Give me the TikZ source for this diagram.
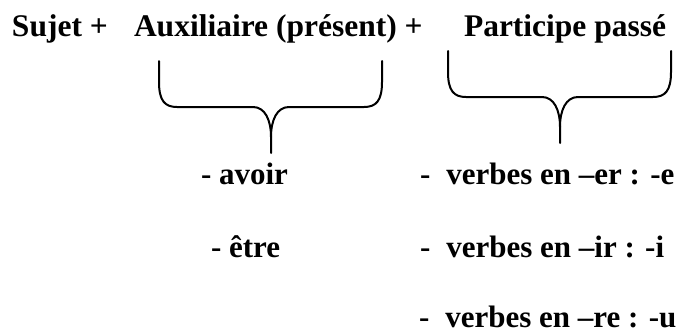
\documentclass[tikz,border=0pt]{standalone}
\usepackage{fontspec}
\setmainfont{Liberation Serif}
\begin{document}
\begin{tikzpicture}[x=1pt,y=-1pt,
  lbl/.style={inner sep=0pt,outer sep=0pt,font=\fontsize{31}{37}\selectfont\bfseries},
  toplbl/.style={inner sep=0pt,outer sep=0pt,font=\fontsize{31.5}{37}\selectfont\bfseries},
  bracepath/.style={line width=2pt,line join=round,line cap=round}]
\useasboundingbox (0,0) rectangle (679,335);
% top line
\node[toplbl,anchor=base west] (sujet) at (12,36) {Sujet +};
\node[toplbl,anchor=base west] (aux) at (134,36) {Auxiliaire (présent) +};
\node[toplbl,anchor=base west] (part) at (464,36) {Participe passé};
% second level
\node[lbl,anchor=base west] (avoir) at (201,184) {- avoir};
\node[lbl,anchor=base west] (etre) at (211,257) {- être};
\node[lbl,anchor=base west] (er) at (420,184) {-\hspace{16pt}verbes en –er : -e};
\node[lbl,anchor=base west] (ir) at (420,257) {-\hspace{16pt}verbes en –ir : -i};
\node[lbl,anchor=base west] (re) at (419,327) {-\hspace{16pt}verbes en –re : -u};
% braces
\coordinate (b1) at (271,107);
\coordinate (b2) at (560,97);
\foreach \c in {b1,b2}{
  \draw[bracepath] ([shift={(-112,-46)}]\c) -- ([shift={(-112,-25)}]\c)
     .. controls ([shift={(-112,-6)}]\c) and ([shift={(-106,0)}]\c) .. ([shift={(-94,0)}]\c)
     -- ([shift={(-18,0)}]\c)
     .. controls ([shift={(-6,0)}]\c) and ([shift={(0,13)}]\c) .. ([shift={(0,30)}]\c)
     -- ([shift={(0,46)}]\c);
  \draw[bracepath] ([shift={(111,-46)}]\c) -- ([shift={(111,-25)}]\c)
     .. controls ([shift={(111,-6)}]\c) and ([shift={(105,0)}]\c) .. ([shift={(93,0)}]\c)
     -- ([shift={(18,0)}]\c)
     .. controls ([shift={(6,0)}]\c) and ([shift={(0,13)}]\c) .. ([shift={(0,30)}]\c);
}
\end{tikzpicture}
\end{document}
